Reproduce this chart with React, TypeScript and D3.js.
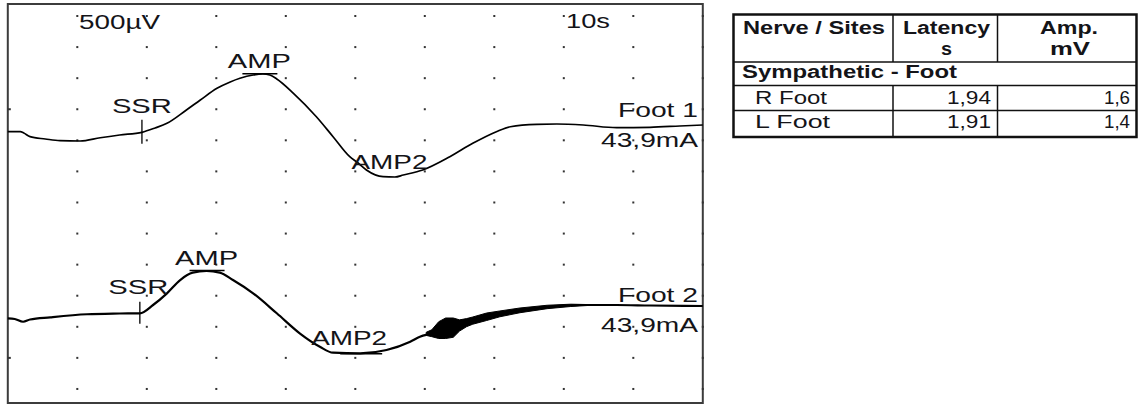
import React from 'react';
import * as d3 from 'd3';

const W = 1140;
const H = 407;

// ---- Data (time in s, amplitude in µV relative to each trace's start baseline) ----
const foot1Time = [0.0, 0.18, 0.23, 0.32, 0.54, 0.75, 1.04, 1.33, 1.61, 1.93, 2.12, 2.29, 2.57, 2.77, 3.01, 3.2, 3.34, 3.53, 3.67, 3.77, 3.87, 4.11, 4.44, 4.68, 4.92, 5.04, 5.16, 5.4, 5.57, 5.69, 5.97, 6.36, 6.69, 7.03, 7.23, 7.61, 7.9, 8.28, 8.76, 9.24, 9.67, 10.0];
const foot1Uv = [0, 0, -21, -80, -117, -145, -150, -97, -53, -10, 60, 135, 349, 510, 698, 800, 859, 912, 928, 912, 848, 618, 241, -80, -402, -504, -616, -724, -729, -697, -616, -402, -187, 0, 80, 119, 124, 108, 64, 71, 92, 108];

const foot2Time = [0.0, 0.1, 0.22, 0.32, 0.61, 1.14, 1.61, 1.9, 2.09, 2.29, 2.48, 2.66, 2.86, 3.05, 3.24, 3.53, 3.87, 4.2, 4.49, 4.68, 5.07, 5.45, 5.79, 5.93, 6.12, 6.26, 6.41, 6.55, 6.69, 6.89, 7.08, 7.37, 7.76, 8.23, 8.76, 9.24, 10.0];
const foot2Uv = [-5, -16, -60, -24, 11, 60, 72, 76, 209, 397, 611, 729, 756, 729, 611, 397, 76, -246, -462, -558, -568, -515, -381, -301, -241, -177, -145, -97, -48, 8, 64, 121, 177, 209, 209, 201, 193];

// artefact envelope on the Foot 2 recovery slope
const foot2NoiseTime = [6.02, 6.1, 6.2, 6.3, 6.41, 6.5, 6.6, 6.69, 6.89, 7.08, 7.37, 7.76, 8.1, 8.4];
const foot2NoiseHi = [-230, -190, -60, 0, 0, -30, -10, 16, 80, 113, 161, 205, 222, 215];
const foot2NoiseLo = [-280, -300, -330, -330, -310, -210, -140, -100, -40, 20, 85, 150, 185, 205];

const traceNames = ['Foot 1', 'Foot 2'];
const stimLabels = ['43,9mA', '43,9mA'];
const gainLabel = '500µV';
const sweepLabel = '10s';

const markerNames = ['SSR', 'AMP', 'AMP2'];
const foot1MarkerTime = [1.93, 3.62, 5.55];
const foot2MarkerTime = [1.9, 2.86, 5.07];

const tableHeaders = [['Nerve / Sites'], ['Latency', 's'], ['Amp.', 'mV']];
const groupLabel = 'Sympathetic - Foot';
const siteNames = ['R Foot', 'L  Foot'];
const latencies = ['1,94', '1,91'];
const amplitudes = ['1,6', '1,4'];

// ---- Layout ----
const plotL = 7.8;
const plotR = 702.8;
const plotT = 4;
const plotB = 403;
const divPx = 31.08;
const baselines = [131.7, 318];
const FONT = "'Liberation Sans', Arial, Helvetica, sans-serif";
const INK = '#141418';

const x = d3.scaleLinear().domain([0, 10]).range([plotL, plotR]);
const yFor = (i: number) =>
  d3.scaleLinear().domain([0, 500]).range([baselines[i], baselines[i] - divPx]);
const gridRow = d3.scaleLinear().domain([0, 12]).range([16, 16 + divPx * 12]);

function interp(ts: number[], vs: number[], t: number) {
  const i = Math.max(1, Math.min(ts.length - 1, d3.bisectLeft(ts, t)));
  const t0 = ts[i - 1], t1 = ts[i];
  const f = (t - t0) / (t1 - t0);
  return vs[i - 1] + (vs[i] - vs[i - 1]) * f;
}

type LProps = { x0: number; x1: number; y: number; text: string; size?: number; bold?: boolean };
function Lbl({ x0, x1, y, text, size = 19.5, bold = false }: LProps) {
  return (
    <text
      x={x0}
      y={y}
      textLength={x1 - x0}
      lengthAdjust="spacingAndGlyphs"
      fontFamily={FONT}
      fontSize={size}
      fontWeight={bold ? 'bold' : 'normal'}
      fill={INK}
    >
      {text}
    </text>
  );
}

export default function App() {
  const traces = [
    { t: foot1Time, v: foot1Uv, mk: foot1MarkerTime, sw: 1.7, amp2Bar: false },
    { t: foot2Time, v: foot2Uv, mk: foot2MarkerTime, sw: 2.2, amp2Bar: true },
  ];
  // label geometry: widths and baseline offsets of marker labels
  const labelW = [60, 63, 76];
  const labelDy = [-19, -6.5, -8];
  const labelDx = [[0, 0, -4], [-1.5, 0, -11]];
  const markerTickHalf = [12.5, 11.5];

  const dots: JSX.Element[] = [];
  for (let k = 1; k <= 10; k++) {
    for (let j = 0; j <= 12; j++) {
      dots.push(
        <rect key={`d${k}-${j}`} x={x(k) - 1} y={gridRow(j) - 1} width={2} height={2} fill="#333" />
      );
    }
  }
  [3, 11].forEach((j) =>
    dots.push(<rect key={`lt${j}`} x={plotL} y={gridRow(j) - 1} width={3} height={2} fill="#333" />)
  );

  const noiseArea = d3
    .area<number>()
    .x((_, i) => x(foot2NoiseTime[i]))
    .y0((_, i) => yFor(1)(foot2NoiseLo[i]))
    .y1((_, i) => yFor(1)(foot2NoiseHi[i]))
    .curve(d3.curveLinear);

  return (
    <svg
      width={W}
      height={H}
      viewBox={`0 0 ${W} ${H}`}
      style={{ position: 'absolute', left: 0, top: 0, display: 'block', background: '#fff' }}
    >
      <rect x={0} y={0} width={W} height={H} fill="#fff" />
      {/* frame */}
      <rect x={plotL} y={plotT} width={plotR - plotL} height={plotB - plotT} fill="none" stroke="#3c3c3c" strokeWidth={2} />
      {dots}

      {/* sensitivity / sweep */}
      <Lbl x0={79} x1={160} y={29} text={gainLabel} />
      <Lbl x0={566} x1={610} y={28} text={sweepLabel} />

      {traces.map((tr, i) => {
        const y = yFor(i);
        const line = d3
          .line<number>()
          .x((_, k) => x(tr.t[k]))
          .y((d) => y(d))
          .curve(d3.curveMonotoneX);
        const mks = tr.mk.map((t) => ({ t, px: x(t), py: y(interp(tr.t, tr.v, t)) }));
        return (
          <g key={i}>
            <path d={line(tr.v) || ''} fill="none" stroke="#000" strokeWidth={tr.sw} strokeLinejoin="round" />
            {i === 1 && <path d={noiseArea(foot2NoiseTime) || ''} fill="#000" stroke="#000" strokeWidth={1} strokeLinejoin="round" />}
            {/* markers */}
            <line x1={mks[0].px} x2={mks[0].px} y1={mks[0].py - markerTickHalf[i]} y2={mks[0].py + markerTickHalf[i] - 1} stroke="#000" strokeWidth={1.3} />
            <line x1={mks[1].px - 17} x2={mks[1].px + 18} y1={mks[1].py - 0.5} y2={mks[1].py - 0.5} stroke="#000" strokeWidth={1.5} />
            {tr.amp2Bar && (
              <line x1={mks[2].px - 20} x2={mks[2].px + 22} y1={mks[2].py + 0.5} y2={mks[2].py + 0.5} stroke="#000" strokeWidth={1.5} />
            )}
            {markerNames.map((n, m) => {
              const cx = mks[m].px + labelDx[i][m];
              return (
                <Lbl key={n} x0={cx - labelW[m] / 2} x1={cx + labelW[m] / 2} y={mks[m].py + labelDy[m]} text={n} />
              );
            })}
            <Lbl x0={618} x1={698} y={baselines[i] - 15 + (i === 1 ? -1.3 : 0)} text={traceNames[i]} />
            <Lbl x0={601} x1={698} y={baselines[i] + 15 + (i === 1 ? -1.3 : 0)} text={stimLabels[i]} />
          </g>
        );
      })}

      {/* results table */}
      <g>
        <rect x={733.5} y={14.5} width={403} height={122.5} fill="none" stroke="#111" strokeWidth={2.5} />
        <line x1={733} x2={1137} y1={62} y2={62} stroke="#111" strokeWidth={1.5} />
        <line x1={733} x2={1137} y1={85.5} y2={85.5} stroke="#111" strokeWidth={1.5} />
        <line x1={733} x2={1137} y1={110.5} y2={110.5} stroke="#111" strokeWidth={1.5} />
        {[893, 997.5].map((cx) => (
          <g key={cx}>
            <line x1={cx} x2={cx} y1={14} y2={62} stroke="#111" strokeWidth={1.5} />
            <line x1={cx} x2={cx} y1={85.5} y2={137} stroke="#111" strokeWidth={1.5} />
          </g>
        ))}
        <Lbl x0={743} x1={885} y={33.5} text={tableHeaders[0][0]} size={18} bold />
        <Lbl x0={903} x1={990} y={34} text={tableHeaders[1][0]} size={18} bold />
        <Lbl x0={941} x1={952} y={55} text={tableHeaders[1][1]} size={18} bold />
        <Lbl x0={1040} x1={1098} y={34} text={tableHeaders[2][0]} size={18} bold />
        <Lbl x0={1050} x1={1090} y={55} text={tableHeaders[2][1]} size={18} bold />
        <Lbl x0={742} x1={957} y={77.5} text={groupLabel} size={18} bold />
        {siteNames.map((s, r) => {
          const by = r === 0 ? 103.5 : 127.5;
          return (
            <g key={s}>
              <Lbl x0={755} x1={r === 0 ? 827 : 830} y={by} text={s} size={18} />
              <Lbl x0={947} x1={991} y={by} text={latencies[r]} size={18} />
              <Lbl x0={1104} x1={1130} y={by} text={amplitudes[r]} size={18} />
            </g>
          );
        })}
      </g>
    </svg>
  );
}
